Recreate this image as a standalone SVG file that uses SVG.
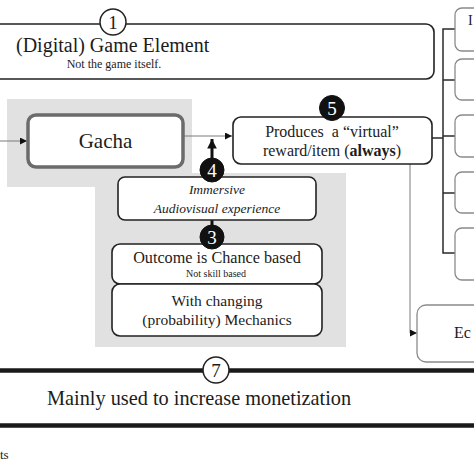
<svg xmlns="http://www.w3.org/2000/svg" width="474" height="474" viewBox="0 0 474 474">
<style>
text{font-family:"Liberation Serif","Times New Roman",Times,"DejaVu Serif",serif;fill:#1c1c1c}
.box{fill:#fff;stroke:#222;stroke-width:1.6}
.rbox{fill:#fff;stroke:#8a8a8a;stroke-width:1.3}
.panel{fill:#e1e1e1}
.ln{fill:none;stroke:#2a2a2a;stroke-width:1.5}
.thin{fill:none;stroke:#7a7a7a;stroke-width:1}
.cb{fill:#111;stroke:#111}
.cw{fill:#fff;stroke:#222;stroke-width:1.5}
.num{font-size:19px;text-anchor:middle}
.numw{font-size:19px;text-anchor:middle;fill:#fff}
.mid{text-anchor:middle}
</style>
<defs>
<marker id="ah" viewBox="0 0 10 10" refX="10" refY="5" markerWidth="7" markerHeight="7" markerUnits="userSpaceOnUse" orient="auto">
<path d="M0,0 L10,5 L0,10 Z" fill="#111"/>
</marker>
<marker id="ahb" viewBox="0 0 10 10" refX="10" refY="5" markerWidth="3.2" markerHeight="3.2" orient="auto">
<path d="M0,0 L10,5 L0,10 Z" fill="#111"/>
</marker>
</defs>
<rect width="474" height="474" fill="#fff"/>

<g id="panels">
<rect class="panel" x="7" y="99" width="185" height="88"/>
<rect class="panel" x="95" y="173" width="251" height="174"/>
</g>

<g id="connectors">
<line class="thin" x1="0" y1="141" x2="27" y2="141" marker-end="url(#ah)"/>
<line class="thin" x1="183" y1="136" x2="232" y2="136" marker-end="url(#ah)"/>
<line x1="212" y1="162" x2="212" y2="139" stroke="#111" stroke-width="3" marker-end="url(#ahb)"/>
<line x1="212" y1="220" x2="212" y2="228" stroke="#111" stroke-width="3"/>
<line class="ln" x1="432" y1="138" x2="443" y2="138"/>
<path class="ln" d="M455,29 H443 V253 H455"/>
<line class="ln" x1="443" y1="80" x2="455" y2="80"/>
<line class="ln" x1="443" y1="136" x2="455" y2="136"/>
<line class="ln" x1="443" y1="193" x2="455" y2="193"/>
<path class="thin" d="M410,164 V333 H417" marker-end="url(#ah)"/>
<line x1="0" y1="370.5" x2="474" y2="370.5" stroke="#1a1a1a" stroke-width="4.5"/>
<line x1="0" y1="425.5" x2="474" y2="425.5" stroke="#1a1a1a" stroke-width="4.5"/>
</g>

<g id="game-element">
<rect class="box" x="-20" y="24" width="454" height="55" rx="8"/>
<circle class="cw" cx="113" cy="22" r="13"/>
<text class="num" x="113" y="28.5">1</text>
<text x="16" y="52" font-size="20">(Digital) Game Element</text>
<text class="mid" x="114" y="68" font-size="12">Not the game itself.</text>
</g>

<g id="gacha">
<rect x="28" y="115" width="155" height="52" rx="8" fill="#fff" stroke="#6b6b6b" stroke-width="3.5"/>
<text class="mid" x="105.5" y="148" font-size="21">Gacha</text>
</g>

<g id="produces">
<rect class="box" x="233" y="117" width="199" height="47" rx="8"/>
<circle class="cb" cx="332" cy="108" r="12.5"/>
<text class="numw" x="332" y="114.5">5</text>
<text class="mid" x="332" y="137" font-size="16" style="white-space:pre">Produces  a “virtual”</text>
<text class="mid" x="332" y="156" font-size="16">reward/item (<tspan font-weight="bold">always</tspan>)</text>
</g>

<g id="immersive">
<rect class="box" x="118" y="177" width="198" height="43" rx="7"/>
<circle class="cb" cx="212" cy="170" r="12"/>
<text class="numw" x="212" y="176.5">4</text>
<text class="mid" x="217" y="194" font-size="13.5" font-style="italic">Immersive</text>
<text class="mid" x="217" y="213" font-size="13.5" font-style="italic">Audiovisual experience</text>
</g>

<g id="outcome">
<rect class="box" x="112" y="244" width="210" height="40" rx="8"/>
<circle class="cb" cx="212" cy="237" r="12"/>
<text class="numw" x="212" y="243.5">3</text>
<text class="mid" x="217" y="263" font-size="16.2">Outcome is Chance based</text>
<text class="mid" x="216" y="277" font-size="10">Not skill based</text>
</g>

<g id="mechanics">
<rect class="box" x="112" y="284" width="210" height="52" rx="8"/>
<text class="mid" x="217" y="306" font-size="15.5">With changing</text>
<text class="mid" x="217" y="325" font-size="15.5">(probability) Mechanics</text>
</g>

<g id="right-boxes">
<rect class="rbox" x="455" y="8" width="40" height="43" rx="7"/>
<text x="468" y="25" font-size="14">I</text>
<rect class="rbox" x="455" y="59" width="40" height="41" rx="7"/>
<rect class="rbox" x="455" y="115" width="40" height="42" rx="7"/>
<rect class="rbox" x="455" y="172" width="40" height="41" rx="7"/>
<rect class="rbox" x="455" y="228" width="40" height="52" rx="7"/>
</g>

<g id="eco">
<rect class="rbox" x="417" y="305" width="80" height="57" rx="9"/>
<text x="454" y="338" font-size="16">Ec</text>
</g>

<g id="monetization">
<circle class="cw" cx="216" cy="370" r="13"/>
<text class="num" x="216" y="377">7</text>
<text x="47" y="405" font-size="20.3">Mainly used to increase monetization</text>
</g>

<text x="0" y="459" font-size="13">ts</text>
</svg>
